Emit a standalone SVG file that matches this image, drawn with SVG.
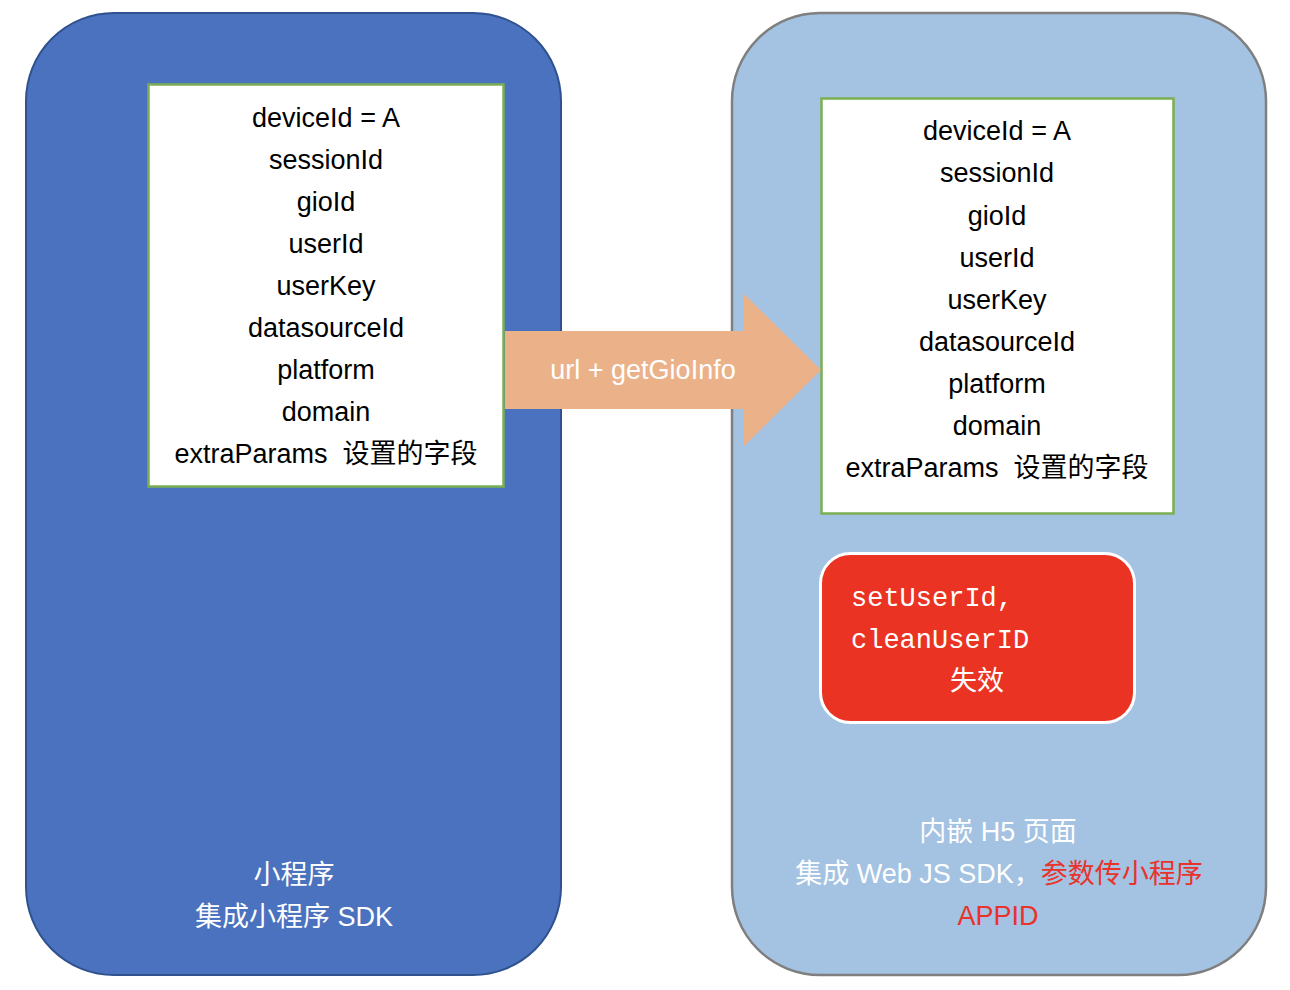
<svg xmlns="http://www.w3.org/2000/svg" width="1290" height="990" viewBox="0 0 1290 990">
<style>
.t{font-family:"Liberation Sans","Noto Sans CJK SC",sans-serif;font-size:27px;text-anchor:middle;dominant-baseline:central;white-space:pre}
.blk{fill:#000}
.wht{fill:#fff}
.red{fill:#E8322A}
.card{fill:#fff;stroke:#7BAF52;stroke-width:2.5}
.mono{font-family:"Liberation Mono","Noto Sans CJK SC",monospace;font-size:27px;fill:#fff;dominant-baseline:central}
</style>
<rect width="1290" height="990" fill="#fff"/>
<g id="miniapp">
<rect x="26" y="13" width="535" height="962" rx="88" ry="88" fill="#4A72BE" stroke="#2F528F" stroke-width="2"/>
<text class="t wht" x="294" y="875">小程序</text>
<text class="t wht" x="294" y="917">集成小程序 SDK</text>
</g>
<g id="h5">
<rect x="732" y="13" width="534" height="962" rx="88" ry="88" fill="#A4C2E2" stroke="#7F7F7F" stroke-width="2.5"/>
<text class="t wht" x="998" y="832">内嵌 H5 页面</text>
<text class="t" x="999" y="874"><tspan class="wht">集成 Web JS SDK，</tspan><tspan class="red">参数传小程序</tspan></text>
<text class="t red" x="998" y="916">APPID</text>
</g>
<g id="left-fields">
<rect class="card" x="148.5" y="84.5" width="355" height="402"/>
<text class="t blk" x="326" y="118">deviceId = A</text>
<text class="t blk" x="326" y="160">sessionId</text>
<text class="t blk" x="326" y="202">gioId</text>
<text class="t blk" x="326" y="244">userId</text>
<text class="t blk" x="326" y="286">userKey</text>
<text class="t blk" x="326" y="328">datasourceId</text>
<text class="t blk" x="326" y="370">platform</text>
<text class="t blk" x="326" y="412">domain</text>
<text class="t blk" x="326" y="454" xml:space="preserve">extraParams  设置的字段</text>
</g>
<g id="right-fields">
<rect class="card" x="821.5" y="98.5" width="352" height="415"/>
<text class="t blk" x="997" y="131">deviceId = A</text>
<text class="t blk" x="997" y="173">sessionId</text>
<text class="t blk" x="997" y="216">gioId</text>
<text class="t blk" x="997" y="258">userId</text>
<text class="t blk" x="997" y="300">userKey</text>
<text class="t blk" x="997" y="342">datasourceId</text>
<text class="t blk" x="997" y="384">platform</text>
<text class="t blk" x="997" y="426">domain</text>
<text class="t blk" x="997" y="468" xml:space="preserve">extraParams  设置的字段</text>
</g>
<g id="invalid">
<rect x="820.5" y="553.5" width="314" height="169" rx="30" ry="30" fill="#EA3323" stroke="#fff" stroke-width="3"/>
<text class="mono" x="851" y="599">setUserId,</text>
<text class="mono" x="851" y="641">cleanUserID</text>
<text class="t wht" x="977" y="681">失效</text>
</g>
<g id="connectors">
<polygon points="505,331 743,331 743,293 821,370 743,447 743,409 505,409" fill="#EBB28A"/>
<text class="t wht" x="643" y="370">url + getGioInfo</text>
</g>
</svg>
